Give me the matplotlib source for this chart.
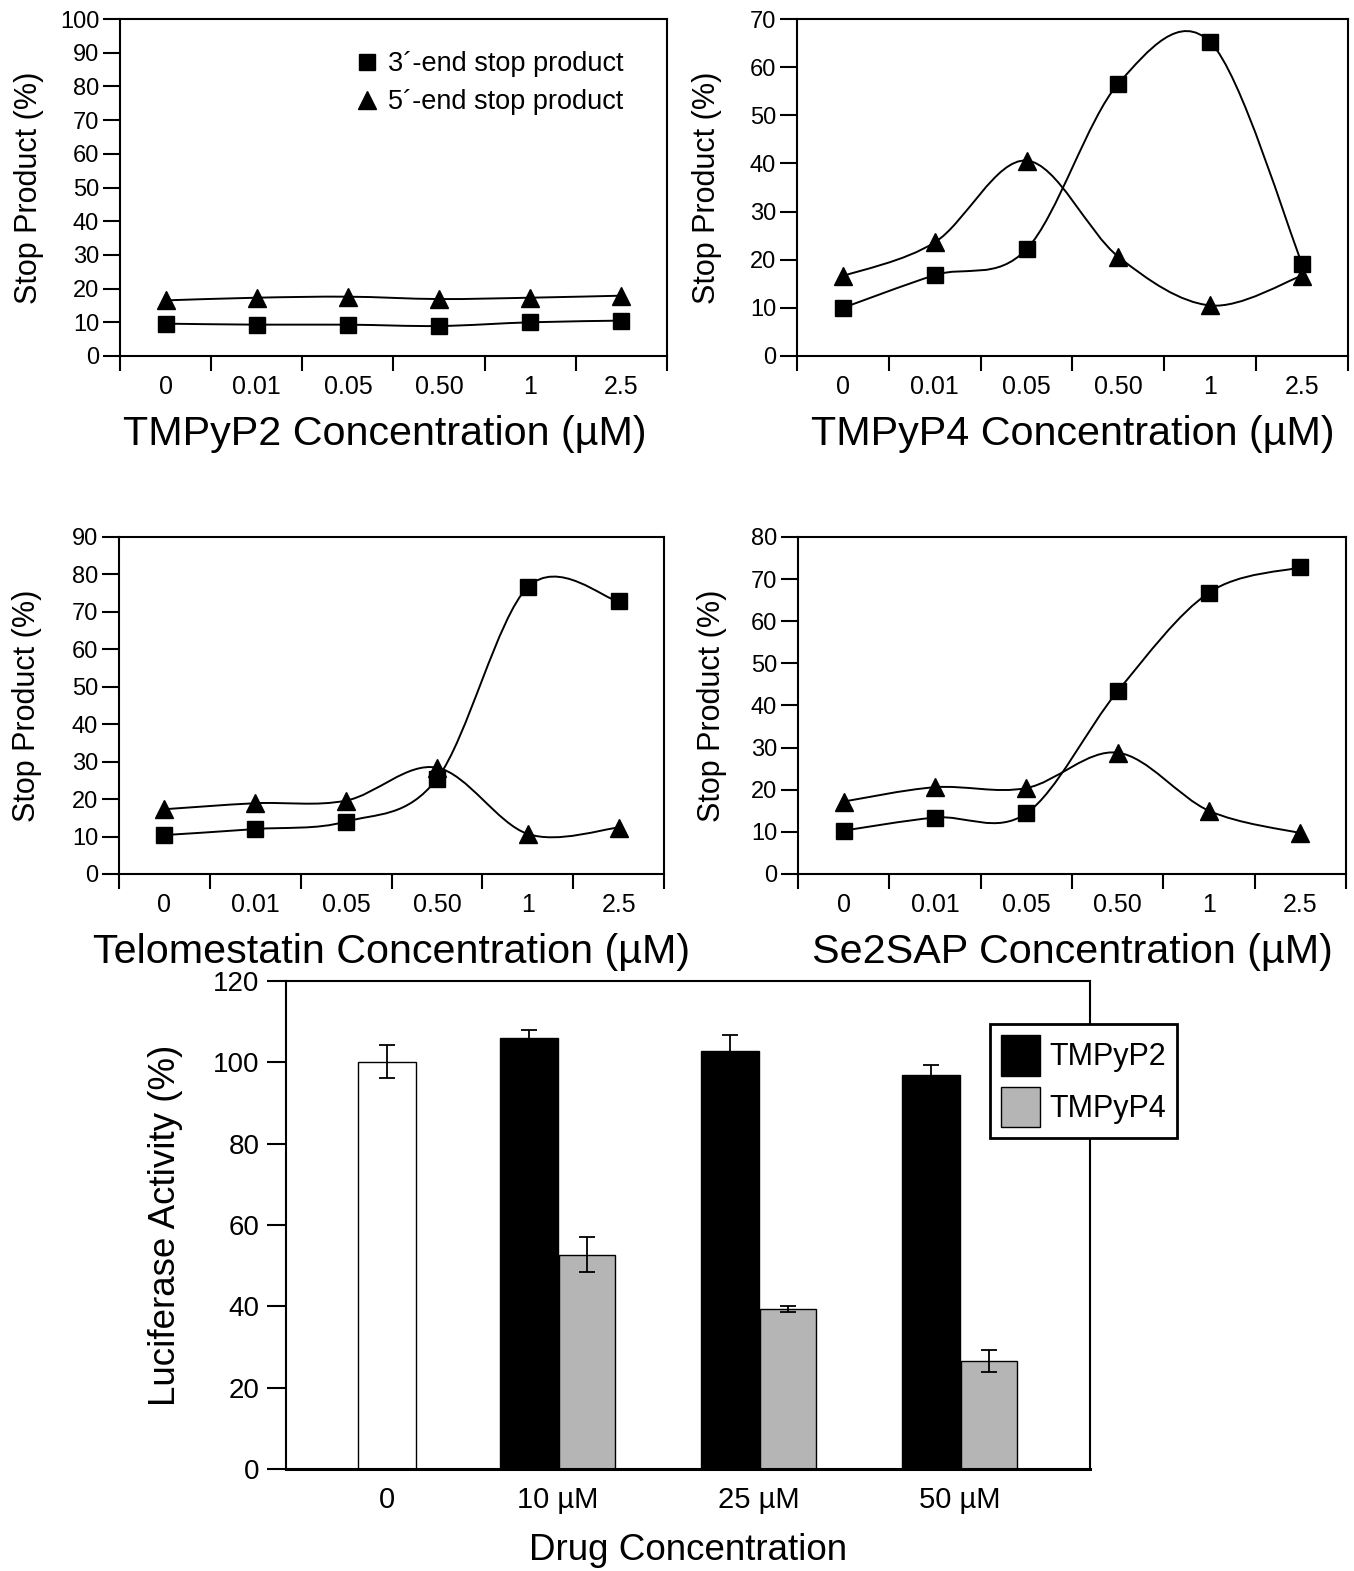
import numpy as np
import matplotlib
matplotlib.use('Agg')
import matplotlib.pyplot as plt
from matplotlib.path import Path
from matplotlib.patches import PathPatch
from matplotlib.lines import Line2D

plt.rcParams['font.family'] = ['Liberation Sans', 'DejaVu Sans']

# stop assay data (% stop product), one value per concentration
conc_labels = ['0', '0.01', '0.05', '0.50', '1', '2.5']
tmpyp2_3end = [9.6, 9.3, 9.3, 8.9, 10.0, 10.5]
tmpyp2_5end = [16.5, 17.3, 17.6, 16.9, 17.3, 17.9]
tmpyp4_3end = [10.0, 16.8, 22.2, 56.6, 65.2, 19.2]
tmpyp4_5end = [16.6, 23.6, 40.6, 20.6, 10.5, 16.7]
telo_3end = [10.4, 12.0, 14.0, 25.4, 76.6, 72.8]
telo_5end = [17.3, 18.9, 19.6, 28.4, 10.7, 12.4]
se2sap_3end = [10.3, 13.4, 14.4, 43.4, 66.8, 72.8]
se2sap_5end = [17.2, 20.6, 20.4, 28.8, 15.0, 9.7]

# luciferase data
dose_labels = ['0', '10 µM', '25 µM', '50 µM']
control_luc = 100.2
control_err = 4.0
tmpyp2_luc = [106.1, 102.8, 96.8]
tmpyp2_err = [1.9, 3.8, 2.5]
tmpyp4_luc = [52.7, 39.4, 26.6]
tmpyp4_err = [4.3, 0.7, 2.7]

W, H = 1354, 1571
fig = plt.figure(figsize=(W / 100, H / 100), dpi=100)


def px_axes(l, t, r, b):
    return fig.add_axes([l / W, 1 - b / H, (r - l) / W, (b - t) / H])


def smooth(ax, y):
    # excel-like smoothed line: bezier through the points
    pts = np.column_stack([np.arange(len(y)), y]).astype(float)
    n = len(pts)
    verts = [pts[0]]
    codes = [Path.MOVETO]
    for i in range(n - 1):
        p0 = pts[max(i - 1, 0)]
        p1 = pts[i]
        p2 = pts[i + 1]
        p3 = pts[min(i + 2, n - 1)]
        verts += [p1 + (p2 - p0) / 6, p2 - (p3 - p1) / 6, p2]
        codes += [Path.CURVE4] * 3
    ax.add_patch(PathPatch(Path(verts, codes), fill=False, lw=1.4, ec='black', zorder=2))


def stop_panel(box, sq, tri, ymax, xlabel, ylx, xlx=0.5):
    ax = px_axes(*box)
    smooth(ax, sq)
    smooth(ax, tri)
    x = np.arange(len(conc_labels))
    ax.plot(x, sq, ls='none', marker='s', ms=11, color='black', zorder=3)
    ax.plot(x, tri, ls='none', marker='^', ms=12.5, color='black', zorder=3)
    ax.set_xlim(-0.5, len(conc_labels) - 0.5)
    ax.set_ylim(0, ymax)
    ax.set_yticks(np.arange(0, ymax + 1, 10))
    ax.set_xticks(np.arange(-0.5, len(conc_labels), 1))
    ax.set_xticklabels([])
    ax.set_xticks(x, minor=True)
    ax.set_xticklabels(conc_labels, minor=True)
    ax.tick_params(axis='x', which='major', direction='out', length=11, width=1.5)
    ax.tick_params(axis='x', which='minor', length=0, pad=14, labelsize=18)
    ax.tick_params(axis='y', direction='out', length=12, width=1.5, pad=3, labelsize=17)
    for s in ax.spines.values():
        s.set_linewidth(1.5)
    ax.set_xlabel(xlabel, fontsize=29.7, labelpad=11)
    ax.set_ylabel('Stop Product (%)', fontsize=22)
    ax.yaxis.set_label_coords(ylx, 0.5)
    if xlx != 0.5:
        ax.xaxis.set_label_coords(xlx, ax.xaxis.label.get_position()[1])
        ax.xaxis.label.set_position((xlx, 0))
    return ax


ax1 = stop_panel((120, 19, 667, 356), tmpyp2_3end, tmpyp2_5end, 100,
                 'TMPyP2 Concentration (µM)', -0.139)
stop_panel((797, 19, 1348, 356), tmpyp4_3end, tmpyp4_5end, 70,
           'TMPyP4 Concentration (µM)', -0.136)
stop_panel((119, 537, 664, 874), telo_3end, telo_5end, 90,
           'Telomestatin Concentration (µM)', -0.141)
stop_panel((798, 537, 1346, 874), se2sap_3end, se2sap_5end, 80,
           'Se2SAP Concentration (µM)', -0.13)
# first panel title sits a little left of centre in the original
ax1.xaxis.label.set_x(0.484)

handles = [Line2D([], [], ls='none', marker='s', ms=11, color='black'),
           Line2D([], [], ls='none', marker='^', ms=12.5, color='black')]
ax1.legend(handles, ['3´-end stop product', '5´-end stop product'],
           loc='upper left', bbox_to_anchor=(356 / W, 1 - 51 / H),
           bbox_transform=fig.transFigure, frameon=False, fontsize=19.5,
           handlelength=0.8, handletextpad=0.4, borderpad=0, borderaxespad=0,
           labelspacing=0.45)

# luciferase bar chart
axb = px_axes(286, 981, 1090, 1469)
groups = np.arange(1, len(tmpyp2_luc) + 1)
bw = 0.29
axb.bar(0.15, control_luc, bw, color='white', edgecolor='black', lw=1, zorder=2)
b2 = axb.bar(groups - bw / 2, tmpyp2_luc, bw, color='black', edgecolor='black',
             lw=1, zorder=2, label='TMPyP2')
b4 = axb.bar(groups + bw / 2, tmpyp4_luc, bw * 0.97, color='#b5b5b5', edgecolor='black',
             lw=1, zorder=2, label='TMPyP4')
ekw = dict(fmt='none', ecolor='black', elinewidth=1.3, capsize=6, capthick=1.3, zorder=3)
axb.errorbar([0.15], [control_luc], yerr=[control_err], **ekw)
axb.errorbar(groups - bw / 2, tmpyp2_luc, yerr=tmpyp2_err, **ekw)
axb.errorbar(groups + bw / 2, tmpyp4_luc, yerr=tmpyp4_err, **ekw)
axb.set_xlim(-0.353, 3.647)
axb.set_ylim(0, 120)
axb.set_yticks(np.arange(0, 121, 20))
axb.set_xticks([0.15, 1, 2, 3])
axb.set_xticklabels(dose_labels)
axb.tick_params(axis='x', length=0, pad=12, labelsize=21)
axb.tick_params(axis='y', direction='out', length=14, width=1.5, pad=5, labelsize=20)
for s in axb.spines.values():
    s.set_linewidth(1.5)
axb.spines['bottom'].set_linewidth(2.2)
axb.set_xlabel('Drug Concentration', fontsize=26.5, labelpad=14)
axb.set_ylabel('Luciferase Activity (%)', fontsize=26.5)
axb.yaxis.set_label_coords(-0.128, 0.5)
leg = axb.legend(handles=[b2, b4], loc='upper left', bbox_to_anchor=(990 / W, 1 - 1024 / H),
                 bbox_transform=fig.transFigure, fontsize=22, fancybox=False,
                 edgecolor='black', framealpha=1, handlelength=1.3, handleheight=1.68,
                 handletextpad=0.3, borderpad=0.35, labelspacing=0.36, borderaxespad=0)
leg.get_frame().set_linewidth(2)

fig.savefig('out.png', dpi=100)
